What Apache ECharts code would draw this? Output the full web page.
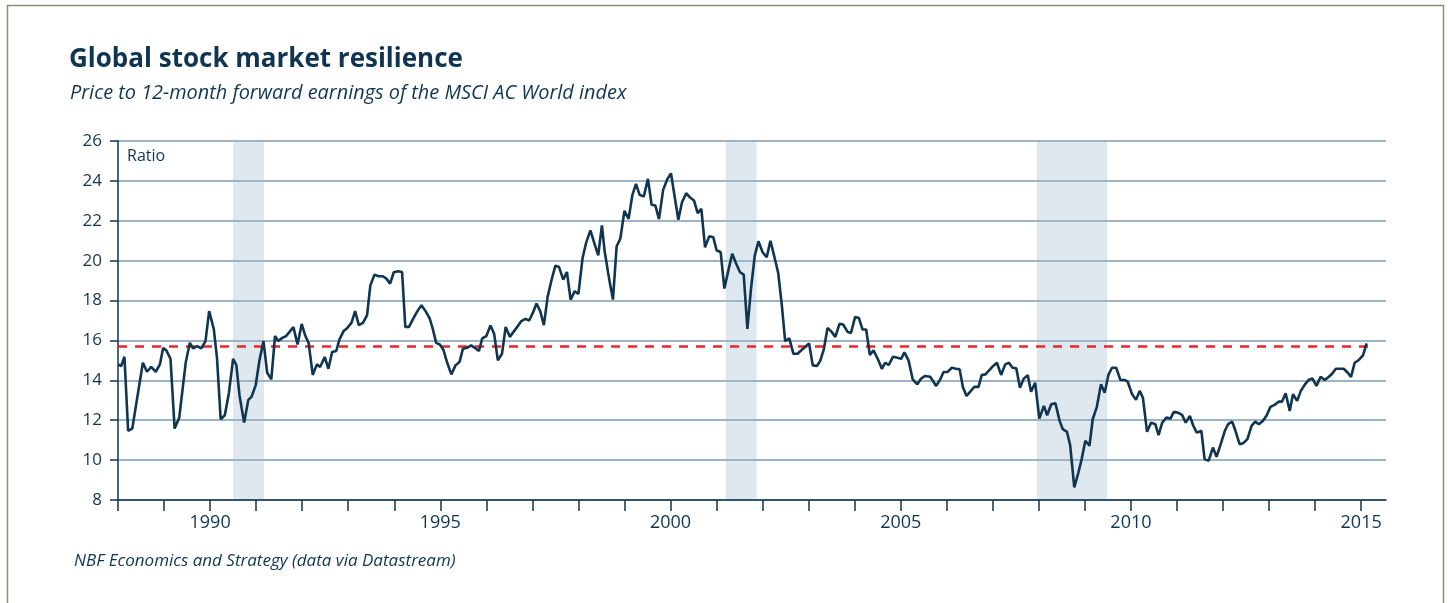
<!DOCTYPE html>
<html>
<head>
<meta charset="utf-8">
<title>Global stock market resilience</title>
<script src="https://cdn.jsdelivr.net/npm/echarts@6/dist/echarts.min.js"></script>
<style>
  html, body { margin: 0; padding: 0; background: #fff; }
  #chart { width: 1448px; height: 603px; }
</style>
</head>
<body>
<div id="chart"></div>
<script type="text/javascript">
// P/E ratio (decimal year, value)
var dates = [
  1988.00,1988.07,1988.14,1988.22,1988.31,1988.54,1988.63,1988.72,1988.82,1988.91,1988.98,
  1989.05,1989.14,1989.23,1989.33,1989.47,1989.56,1989.63,1989.72,1989.81,1989.90,1989.98,
  1990.08,1990.15,1990.23,1990.32,1990.41,1990.50,1990.57,1990.64,1990.74,1990.83,1990.90,1990.99,
  1991.07,1991.16,1991.24,1991.33,1991.41,1991.48,1991.57,1991.65,1991.81,1991.90,1991.99,
  1992.07,1992.14,1992.23,1992.32,1992.39,1992.49,1992.57,1992.65,1992.74,1992.81,1992.90,1992.97,
  1993.07,1993.15,1993.23,1993.32,1993.41,1993.48,1993.57,1993.66,1993.75,1993.83,1993.91,1993.99,
  1994.08,1994.17,1994.24,1994.32,1994.41,1994.49,1994.59,1994.68,1994.77,1994.84,1994.91,1994.99,
  1995.07,1995.15,1995.24,1995.33,1995.42,1995.49,1995.58,1995.67,1995.75,1995.84,1995.91,
  1996.00,1996.09,1996.17,1996.25,1996.34,1996.42,1996.51,1996.59,1996.67,1996.76,1996.85,1996.93,
  1997.01,1997.09,1997.17,1997.25,1997.33,1997.41,1997.50,1997.58,1997.67,1997.75,1997.83,1997.92,
  1998.00,1998.09,1998.17,1998.26,1998.34,1998.43,1998.51,1998.57,1998.67,1998.75,1998.83,1998.91,
  1999.00,1999.09,1999.17,1999.25,1999.33,1999.42,1999.51,1999.59,1999.67,1999.75,1999.84,1999.93,
  2000.01,2000.09,2000.17,2000.25,2000.34,2000.42,2000.51,2000.59,2000.67,2000.75,2000.84,2000.93,
  2001.00,2001.09,2001.17,2001.26,2001.34,2001.42,2001.51,2001.59,2001.67,2001.75,2001.83,2001.91,
  2002.00,2002.09,2002.17,2002.25,2002.34,2002.42,2002.49,2002.58,2002.67,2002.76,2002.86,2002.93,
  2003.01,2003.09,2003.18,2003.25,2003.33,2003.41,2003.50,2003.58,2003.67,2003.75,2003.85,2003.92,
  2004.01,2004.09,2004.17,2004.25,2004.33,2004.41,2004.50,2004.59,2004.66,2004.74,2004.83,2004.93,
  2005.01,2005.08,2005.17,2005.26,2005.36,2005.44,2005.53,2005.64,2005.77,2005.86,2005.93,
  2006.02,2006.11,2006.20,2006.28,2006.35,2006.43,2006.51,2006.60,2006.69,2006.76,2006.84,2006.93,
  2007.01,2007.09,2007.18,2007.27,2007.35,2007.43,2007.51,2007.59,2007.67,2007.76,2007.83,2007.92,
  2008.01,2008.11,2008.18,2008.27,2008.36,2008.45,2008.52,2008.61,2008.68,2008.77,2008.86,2008.93,
  2009.01,2009.10,2009.17,2009.26,2009.35,2009.43,2009.51,2009.59,2009.68,2009.77,2009.86,2009.93,
  2010.02,2010.11,2010.19,2010.26,2010.35,2010.44,2010.53,2010.60,2010.68,2010.77,2010.86,2010.93,
  2011.02,2011.11,2011.19,2011.28,2011.35,2011.43,2011.53,2011.60,2011.69,2011.78,2011.86,2011.95,
  2012.04,2012.11,2012.20,2012.27,2012.36,2012.44,2012.53,2012.62,2012.70,2012.78,2012.87,2012.95,
  2013.03,2013.12,2013.21,2013.28,2013.36,2013.45,2013.52,2013.61,2013.69,2013.78,2013.86,2013.94,
  2014.03,2014.12,2014.21,2014.30,2014.37,2014.45,2014.54,2014.62,2014.71,2014.78,2014.86,2014.95,
  2015.04,2015.12
];
var ratio = [
  14.80,14.72,15.18,11.47,11.58,14.88,14.43,14.67,14.43,14.80,15.62,
  15.50,15.08,11.58,12.13,14.88,15.88,15.60,15.72,15.60,15.97,17.47,
  16.58,15.13,12.05,12.25,13.38,15.08,14.77,13.22,11.88,13.02,13.17,13.75,
  14.97,15.97,14.38,14.05,16.22,15.97,16.13,16.22,16.67,15.80,16.83,
  16.22,15.88,14.27,14.80,14.67,15.17,14.58,15.42,15.47,16.05,16.47,16.60,
  16.88,17.47,16.77,16.88,17.27,18.75,19.30,19.22,19.22,19.10,18.85,19.42,
  19.47,19.43,16.68,16.68,17.08,17.42,17.77,17.47,17.10,16.55,15.88,15.80,
  15.52,14.88,14.30,14.75,14.93,15.58,15.63,15.75,15.63,15.47,16.10,
  16.22,16.75,16.33,15.00,15.33,16.68,16.18,16.43,16.68,16.97,17.08,17.00,
  17.38,17.85,17.47,16.77,18.17,18.97,19.75,19.68,19.05,19.43,18.05,18.47,
  18.33,20.13,20.92,21.52,20.92,20.27,21.77,20.47,19.05,18.05,20.72,21.10,
  22.50,22.10,23.27,23.85,23.30,23.22,24.10,22.80,22.77,22.08,23.55,24.08,
  24.38,23.22,22.05,22.93,23.38,23.18,23.02,22.38,22.60,20.67,21.22,21.17,
  20.52,20.42,18.60,19.55,20.35,19.88,19.42,19.30,16.58,18.63,20.25,20.97,
  20.42,20.17,21.00,20.25,19.38,17.72,15.97,16.10,15.33,15.33,15.55,15.68,
  15.85,14.75,14.72,14.97,15.55,16.63,16.43,16.18,16.83,16.80,16.42,16.38,
  17.18,17.13,16.55,16.55,15.27,15.50,15.08,14.58,14.88,14.77,15.18,15.13,
  15.08,15.40,15.00,14.05,13.80,14.08,14.22,14.18,13.72,14.05,14.42,
  14.42,14.63,14.58,14.55,13.67,13.22,13.43,13.68,13.67,14.27,14.30,14.52,
  14.72,14.88,14.27,14.80,14.88,14.63,14.60,13.63,14.08,14.25,13.43,13.88,
  12.08,12.72,12.25,12.80,12.85,11.98,11.55,11.42,10.75,8.63,9.38,10.05,
  10.97,10.72,12.05,12.67,13.80,13.38,14.27,14.63,14.63,14.02,14.02,13.93,
  13.33,13.02,13.47,13.13,11.42,11.88,11.80,11.25,11.88,12.13,12.08,12.42,
  12.38,12.27,11.88,12.22,11.75,11.38,11.47,10.05,9.97,10.63,10.17,10.80,
  11.47,11.80,11.93,11.47,10.80,10.85,11.05,11.72,11.93,11.80,11.97,12.25,
  12.67,12.77,12.93,12.93,13.35,12.47,13.30,12.97,13.47,13.80,14.02,14.10,
  13.72,14.18,14.02,14.18,14.33,14.58,14.58,14.58,14.38,14.17,14.88,15.02,
  15.25,15.85
];
// long-term average line
var avgValue = 15.7;
var avgSpan = [1988, 2015.32];
// recession periods (shaded)
var recStart = [1990.50, 2001.20, 2007.96];
var recEnd   = [1991.17, 2001.87, 2009.48];
var tickYears = [];
for (var y = 1988; y <= 2015; y++) tickYears.push(y);
var labelYears = [1990, 1995, 2000, 2005, 2010, 2015];

var navy = '#0f3550';
var font = '"Open Sans"';

var lineData = dates.map(function (d, i) { return [d, ratio[i]]; });
var recAreas = recStart.map(function (s, i) { return [{ xAxis: s }, { xAxis: recEnd[i] }]; });

var myChart = echarts.init(document.getElementById('chart'));
var option = {
  animation: false,
  backgroundColor: '#fff',
  grid: { left: 118, right: 62, top: 141, bottom: 103 },
  xAxis: {
    type: 'value',
    z: 3,
    min: 1988,
    max: 2015.54,
    interval: 1,
    axisLine: { show: true, lineStyle: { color: navy, width: 1.5 } },
    axisTick: { show: true, length: 11, customValues: tickYears, lineStyle: { color: navy, width: 1.5 } },
    axisLabel: {
      customValues: labelYears,
      margin: 14,
      color: navy,
      fontFamily: font,
      fontSize: 18,
      formatter: function (v) { return v % 5 === 0 ? String(v) : ''; }
    },
    splitLine: { show: false }
  },
  yAxis: {
    type: 'value',
    z: 3,
    min: 8,
    max: 26,
    interval: 2,
    axisLine: { show: true, lineStyle: { color: navy, width: 1.5 } },
    axisTick: { show: true, length: 8, lineStyle: { color: navy, width: 1.5 } },
    axisLabel: { margin: 16, color: navy, fontFamily: font, fontSize: 17 },
    splitLine: { show: true, lineStyle: { color: '#9db4c6', width: 2 } }
  },
  series: [
    {
      // recession shading, kept under the grid lines
      type: 'line',
      z: 1,
      data: [],
      markArea: {
        silent: true,
        itemStyle: { color: '#dfe7ef' },
        data: recAreas
      }
    },
    {
      type: 'line',
      data: [[avgSpan[0], avgValue], [avgSpan[1], avgValue]],
      symbol: 'none',
      lineStyle: { color: '#e8262c', width: 2.5, type: [9, 8] },
      z: 5
    },
    {
      type: 'line',
      data: lineData,
      symbol: 'none',
      lineStyle: { color: navy, width: 2.6 },
      z: 6
    }
  ],
  graphic: [
    { type: 'rect', shape: { x: 7.5, y: 5.5, width: 1436, height: 640 },
      style: { fill: 'none', stroke: '#8d8d7e', lineWidth: 1.5 }, silent: true },
    { type: 'text', left: 69, top: 47,
      style: { text: 'Global stock market resilience', fill: navy, font: 'bold 26px ' + font } },
    { type: 'text', left: 70, top: 83,
      style: { text: 'Price to 12-month forward earnings of the MSCI AC World index', fill: navy, font: 'italic 19.9px ' + font } },
    { type: 'text', left: 127, top: 148,
      style: { text: 'Ratio', fill: navy, font: '16px ' + font } },
    { type: 'text', left: 74, top: 553,
      style: { text: 'NBF Economics and Strategy (data via Datastream)', fill: navy, font: 'italic 17px ' + font } }
  ]
};
myChart.setOption(option);
</script>
</body>
</html>
